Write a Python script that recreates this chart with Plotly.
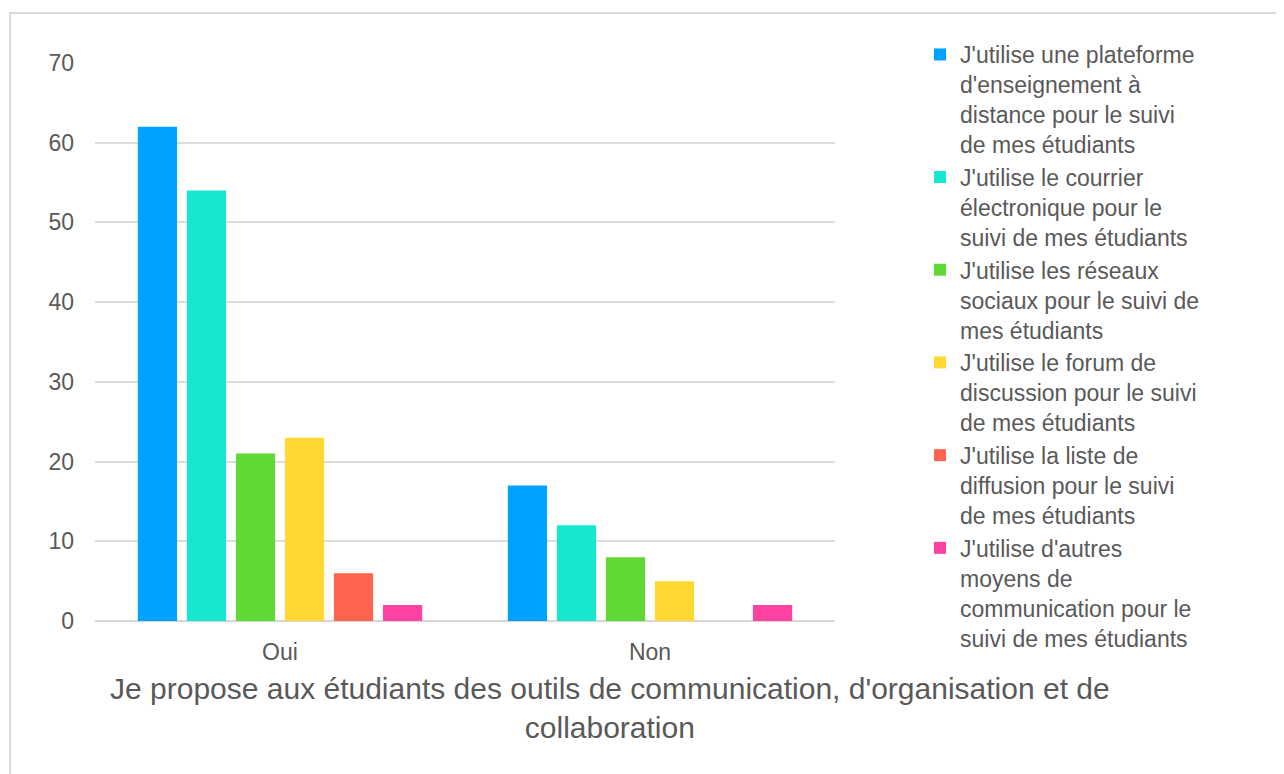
import plotly.graph_objects as go

categories = ["Oui", "Non"]
series_names = [
    "J'utilise une plateforme<br>d'enseignement à<br>distance pour le suivi<br>de mes étudiants",
    "J'utilise le courrier<br>électronique pour le<br>suivi de mes étudiants",
    "J'utilise les réseaux<br>sociaux pour le suivi de<br>mes étudiants",
    "J'utilise le forum de<br>discussion pour le suivi<br>de mes étudiants",
    "J'utilise la liste de<br>diffusion pour le suivi<br>de mes étudiants",
    "J'utilise d'autres<br>moyens de<br>communication pour le<br>suivi de mes étudiants",
]
plateforme = [62, 17]
courrier = [54, 12]
reseaux = [21, 8]
forum = [23, 5]
liste = [6, 0]
autres = [2, 2]
series_values = [plateforme, courrier, reseaux, forum, liste, autres]
colors = ["#00A2FF", "#16E7CF", "#61D836", "#FFD932", "#FF644E", "#FF42A1"]
y_ticks = [0, 10, 20, 30, 40, 50, 60, 70]
x_title = "Je propose aux étudiants des outils de communication, d'organisation et de<br>collaboration"

OFF = 8  # page body margin
W, H = 1284 - OFF, 774 - OFF
# plot area in page pixels: x 95..835, y 63..621
L = 95 - OFF
T = 63 - OFF
R = W - (835 - OFF)
B = H - (621 - OFF)
pw, ph = W - L - R, H - T - B

def px_x(x):
    return (x - OFF - L) / pw

def px_y(y):
    return (H - B - (y - OFF)) / ph

font_family = "Liberation Sans, Arial, Helvetica, sans-serif"
text_color = "#595959"

fig = go.Figure()
for name, vals, col in zip(series_names, series_values, colors):
    fig.add_trace(go.Bar(x=categories, y=vals, name=name,
                         marker=dict(color=col, line=dict(width=0))))

fig.update_layout(
    width=W, height=H,
    margin=dict(l=L, r=R, t=T, b=B, pad=0),
    paper_bgcolor="white", plot_bgcolor="white",
    barmode="group", bargap=0.205, bargroupgap=0.2,
    font=dict(family=font_family, color=text_color, size=23),
    showlegend=True,
    legend=dict(
        x=px_x(920), y=px_y(33), xanchor="left", yanchor="top",
        font=dict(size=23, color=text_color, family=font_family),
        valign="top", itemwidth=30,
        bgcolor="rgba(0,0,0,0)",
    ),
    xaxis=dict(
        showgrid=False, showline=False, zeroline=False,
        tickfont=dict(size=23, color=text_color),
        ticklabelstandoff=15,
    ),
    yaxis=dict(
        range=[0, 70], tickvals=y_ticks, showgrid=True,
        gridcolor="#dcdcdc", gridwidth=1.5,
        zeroline=True, zerolinecolor="#d6d6d6", zerolinewidth=2,
        showline=False, tickfont=dict(size=23, color=text_color),
        ticklabelstandoff=20,
    ),
    annotations=[dict(
        text=x_title, xref="paper", yref="paper",
        x=px_x(610), y=px_y(670), xanchor="center", yanchor="top",
        showarrow=False, align="center",
        font=dict(size=30, color=text_color, family=font_family),
    )],
    shapes=[dict(
        type="rect", xref="paper", yref="paper",
        x0=px_x(10), x1=px_x(1300), y0=px_y(790), y1=px_y(13),
        line=dict(color="#d9d9d9", width=2), fillcolor="rgba(0,0,0,0)",
        layer="below",
    )],
)
try:
    fig.update_layout(legend_maxheight=H)
except Exception:
    pass

fig.write_html("out.html")
